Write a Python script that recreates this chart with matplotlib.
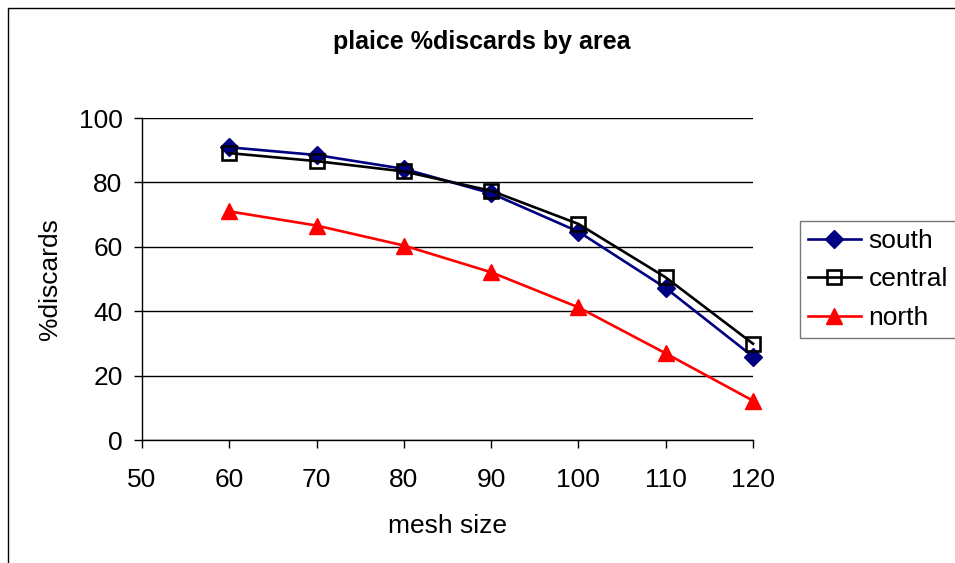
import matplotlib
matplotlib.use("Agg")
import matplotlib.pyplot as plt
from matplotlib.patches import Rectangle

plt.rcParams['font.family'] = ['Liberation Sans', 'DejaVu Sans']

mesh_size = [60, 70, 80, 90, 100, 110, 120]
south = [90.9, 88.5, 84.2, 76.6, 64.7, 47.2, 25.9]
central = [89.1, 86.6, 83.4, 77.4, 67.1, 50.5, 29.9]
north = [71.0, 66.6, 60.4, 52.1, 41.2, 26.9, 12.2]
x_ticks = [50, 60, 70, 80, 90, 100, 110, 120]
y_ticks = [0, 20, 40, 60, 80, 100]

fig = plt.figure(figsize=(9.55, 5.63), dpi=100)

# chart-area frame
fig.patches.append(Rectangle((8 / 955, -0.1), 2.0, 1 - 8 / 563 + 0.1,
                             transform=fig.transFigure, fill=False,
                             edgecolor='black', linewidth=1.0))

ax = fig.add_axes([142 / 955, 123 / 563, (753 - 142) / 955, (440 - 118) / 563])

ax.plot(mesh_size, south, color='#000080', linewidth=1.9, marker='D',
        markersize=9, markerfacecolor='#000080', markeredgecolor='#000080',
        label='south', zorder=3, clip_on=False)
ax.plot(mesh_size, central, color='black', linewidth=1.9, marker='s',
        markersize=10, markerfacecolor='none', markeredgecolor='black',
        markeredgewidth=1.9, label='central', zorder=4, clip_on=False)
ax.plot(mesh_size, north, color='#ff0000', linewidth=1.9, marker='^',
        markersize=11, markerfacecolor='#ff0000', markeredgecolor='#ff0000',
        label='north', zorder=3, clip_on=False)

ax.set_xlim(50, 120)
ax.set_ylim(0, 100)
ax.set_xticks(x_ticks)
ax.set_yticks(y_ticks)
ax.tick_params(axis='both', labelsize=19, length=6, width=1, color='black',
               direction='out')
ax.tick_params(axis='x', pad=14)
ax.tick_params(axis='y', pad=8)
for s in ['top', 'right']:
    ax.spines[s].set_visible(False)
for s in ['left', 'bottom']:
    ax.spines[s].set_linewidth(1.0)
ax.grid(axis='y', color='black', linewidth=1.0)
ax.set_axisbelow(True)

ax.set_xlabel('mesh size', fontsize=19, labelpad=16)
ax.set_ylabel('%discards', fontsize=19, labelpad=12)
fig.text(482 / 955, 1 - 42 / 563, 'plaice %discards by area', ha='center',
         va='center', fontsize=18, fontweight='bold')

leg = fig.legend(loc='upper left', bbox_to_anchor=(800 / 955, 1 - 221 / 563),
                 fontsize=19, frameon=True, fancybox=False, borderpad=0.3,
                 handlelength=2.0, handletextpad=0.3, labelspacing=0.55,
                 borderaxespad=0)
leg.get_frame().set_edgecolor('#555555')
leg.get_frame().set_linewidth(1.0)

fig.savefig('out.png', dpi=100)
